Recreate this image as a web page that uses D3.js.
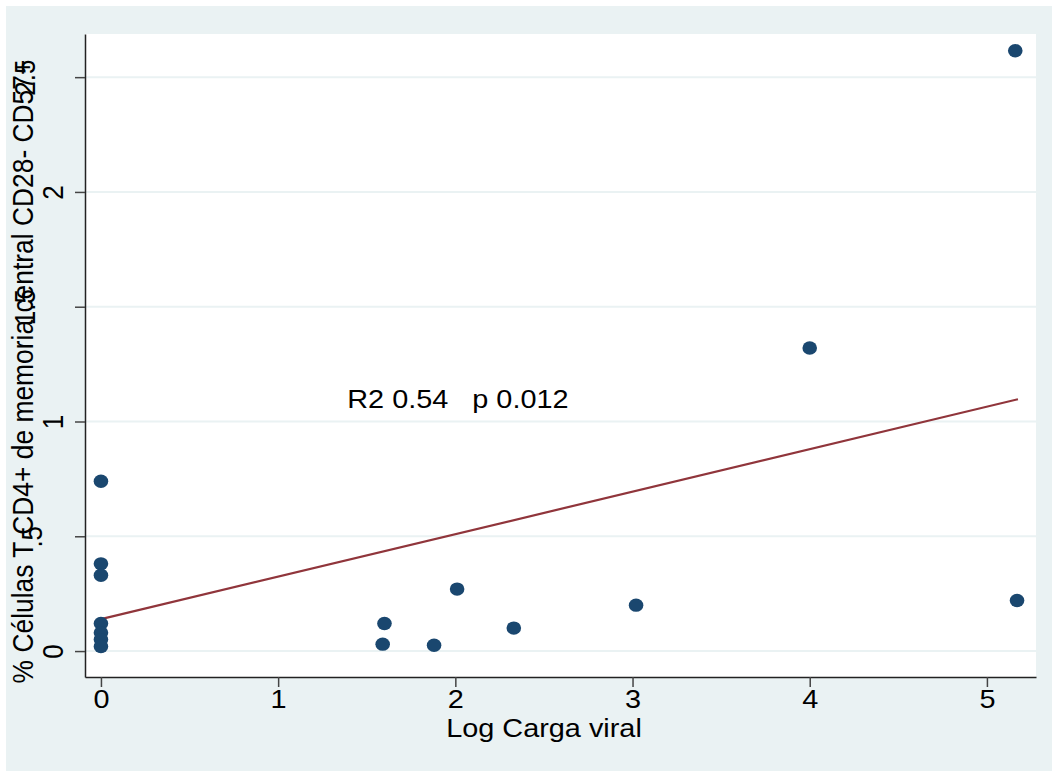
<!DOCTYPE html>
<html>
<head>
<meta charset="utf-8">
<script src="https://cdn.jsdelivr.net/npm/d3@7"></script>
<style>
  body { margin: 0; background: #fff; }
  text { font-family: "Liberation Sans", Arial, sans-serif; fill: #000; }
</style>
</head>
<body>
<div class="box"></div>
<script>
// values
const logCarga = [0, 0, 0, 0, 0, 0, 0, 1.60, 1.59, 1.88, 2.01, 2.33, 3.02, 4.00, 5.17, 5.16];
const pctCD4   = [0.74, 0.38, 0.33, 0.12, 0.08, 0.05, 0.02, 0.12, 0.03, 0.025, 0.27, 0.10, 0.20, 1.32, 0.22, 2.615];

// fitted line (lfit) end points
const fitX = [0, 5.175];
const fitY = [0.139, 1.097];

const xTicks = [0, 1, 2, 3, 4, 5];
const yTicks = [0, 0.5, 1, 1.5, 2, 2.5];
const yTickLabels = ['0', '.5', '1', '1.5', '2', '2.5'];

const xTitle = 'Log Carga viral';
const yTitle = '% Células T CD4+ de memoria central CD28- CD57+';
const note = 'R2 0.54   p 0.012';
const notePos = [1.39, 1.1];

// the picture is a bit wider than tall in its glyphs
const stretch = 1.11;

const svg = d3.select('.box')
              .append('svg')
              .attr('width', 1052)
              .attr('height', 771);

svg.append('rect')
   .attr('x', 6).attr('y', 6)
   .attr('width', 1046).attr('height', 765)
   .attr('fill', '#eaf2f3');

// plot region
const plot = {left: 85, right: 1036, top: 34, bottom: 677};

const x = d3.scaleLinear()
            .domain([-0.09, 5.277])
            .range([plot.left, plot.right]);

const y = d3.scaleLinear()
            .domain([-0.113, 2.688])
            .range([plot.bottom, plot.top]);

svg.append('rect')
   .attr('x', plot.left).attr('y', plot.top)
   .attr('width', plot.right - plot.left)
   .attr('height', plot.bottom - plot.top)
   .attr('fill', '#fff');

// grid lines
svg.append('g')
   .selectAll('line')
   .data(yTicks)
   .enter()
   .append('line')
   .attr('x1', plot.left).attr('x2', plot.right)
   .attr('y1', d => y(d)).attr('y2', d => y(d))
   .attr('stroke', '#eaf2f3')
   .attr('stroke-width', 2);

// axes
const axeX = d3.axisBottom(x)
               .tickValues(xTicks)
               .tickFormat(d3.format('d'))
               .tickSize(10)
               .tickSizeOuter(0);

const axeY = d3.axisLeft(y)
               .tickValues(yTicks)
               .tickFormat((d, i) => yTickLabels[i])
               .tickSize(10)
               .tickSizeOuter(0);

const groupeX = svg.append('g')
                   .attr('transform', `translate(0, ${plot.bottom})`)
                   .call(axeX);
const groupeY = svg.append('g')
                   .attr('transform', `translate(${plot.left}, 0)`)
                   .call(axeY);

[groupeX, groupeY].forEach(g => {
  g.select('.domain').attr('stroke', '#222').attr('stroke-width', 1.5);
  g.selectAll('.tick line').attr('stroke', '#444').attr('stroke-width', 1.5);
  g.selectAll('text').style('font-size', '26px').attr('fill', '#000');
});

groupeX.selectAll('text')
       .attr('y', 31)
       .attr('dy', 0)
       .attr('transform', `scale(${stretch},1)`);

// longer labels sit further left, overlapping the title as in the original
const labelShift = {1: 22, 2: 43, 3: 50};
groupeY.selectAll('text')
       .attr('transform', `scale(${stretch},1) rotate(-90)`)
       .attr('x', 0)
       .attr('y', d => -labelShift[yTickLabels[yTicks.indexOf(d)].length] / stretch)
       .attr('dy', 0)
       .attr('text-anchor', 'middle');

// titles
svg.append('text')
   .attr('transform', `translate(544, 737) scale(${stretch},1)`)
   .attr('text-anchor', 'middle')
   .style('font-size', '26px')
   .text(xTitle);

svg.append('text')
   .attr('transform', `translate(33, 371.5) scale(${stretch},1) rotate(-90)`)
   .attr('text-anchor', 'middle')
   .style('font-size', '26.4px')
   .text(yTitle);

// fitted line
svg.append('line')
   .attr('x1', x(fitX[0])).attr('y1', y(fitY[0]))
   .attr('x2', x(fitX[1])).attr('y2', y(fitY[1]))
   .attr('stroke', '#90353b')
   .attr('stroke-width', 2.2);

// points
svg.append('g')
   .selectAll('ellipse')
   .data(logCarga)
   .enter()
   .append('ellipse')
   .attr('cx', d => x(d))
   .attr('cy', (d, i) => y(pctCD4[i]))
   .attr('rx', 7.3)
   .attr('ry', 6.7)
   .attr('fill', '#1a476f');

// annotation
svg.append('text')
   .attr('transform', `translate(${x(notePos[0])}, ${y(notePos[1])}) scale(${stretch},1)`)
   .attr('dy', '0.36em')
   .attr('xml:space', 'preserve')
   .style('white-space', 'pre')
   .style('font-size', '26px')
   .text(note);
</script>
</body>
</html>
